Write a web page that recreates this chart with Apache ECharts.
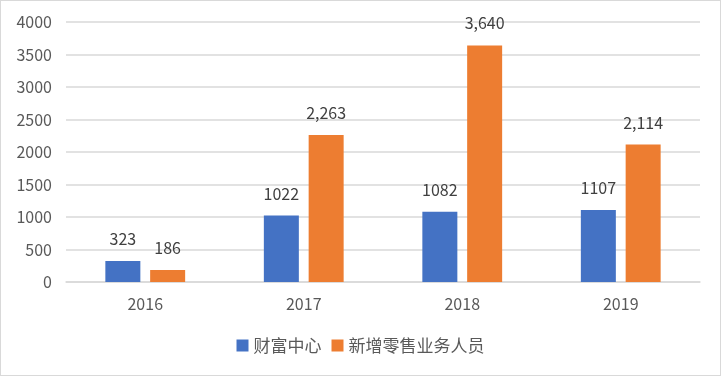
<!DOCTYPE html>
<html>
<head>
<meta charset="utf-8">
<script src="https://cdn.jsdelivr.net/npm/echarts@6/dist/echarts.min.js"></script>
<style>
html, body { margin: 0; padding: 0; background: #fff; }
#main { width: 719px; height: 374px; border: 1px solid #d9d9d9; }
</style>
</head>
<body>
<div id="main"></div>
<script>
var years = ['2016', '2017', '2018', '2019'];
var wealthCenter = [323, 1022, 1082, 1107];
var newRetailStaff = [186, 2263, 3640, 2114];

var chart = echarts.init(document.getElementById('main'));
var font = '"Noto Sans CJK SC", "Microsoft YaHei", sans-serif';

var option = {
    textStyle: { fontFamily: font },
    grid: { left: 65, right: 20, top: 21, bottom: 93 },
    legend: {
        bottom: 16,
        left: 'center',
        itemWidth: 12,
        itemHeight: 12,
        itemGap: 10,
        icon: 'rect',
        textStyle: { fontSize: 17, color: '#595959', fontFamily: font },
        data: ['财富中心', '新增零售业务人员']
    },
    xAxis: {
        type: 'category',
        data: years,
        axisLine: { lineStyle: { color: '#d9d9d9', width: 1.5 } },
        axisTick: { show: false },
        axisLabel: { fontSize: 16, color: '#595959', margin: 14, fontFamily: font }
    },
    yAxis: {
        type: 'value',
        min: 0,
        max: 4000,
        interval: 500,
        axisLine: { show: false },
        axisTick: { show: false },
        axisLabel: {
            fontSize: 16,
            color: '#595959',
            margin: 14,
            fontFamily: font,
            formatter: function (v) { return String(v); }
        },
        splitLine: { lineStyle: { color: '#d9d9d9', width: 1.5 } }
    },
    series: [
        {
            name: '财富中心',
            type: 'bar',
            data: wealthCenter,
            barWidth: 35,
            barGap: '28%',
            itemStyle: { color: '#4472c4' },
            label: {
                show: true,
                position: 'top',
                distance: 14,
                fontSize: 16,
                color: '#404040',
                fontFamily: font
            }
        },
        {
            name: '新增零售业务人员',
            type: 'bar',
            data: newRetailStaff,
            barWidth: 35,
            itemStyle: { color: '#ed7d31' },
            label: {
                show: true,
                position: 'top',
                distance: 14,
                fontSize: 16,
                color: '#404040',
                fontFamily: font,
                formatter: function (p) { return p.value.toLocaleString('en-US'); }
            }
        }
    ]
};
chart.setOption(option);
</script>
</body>
</html>
